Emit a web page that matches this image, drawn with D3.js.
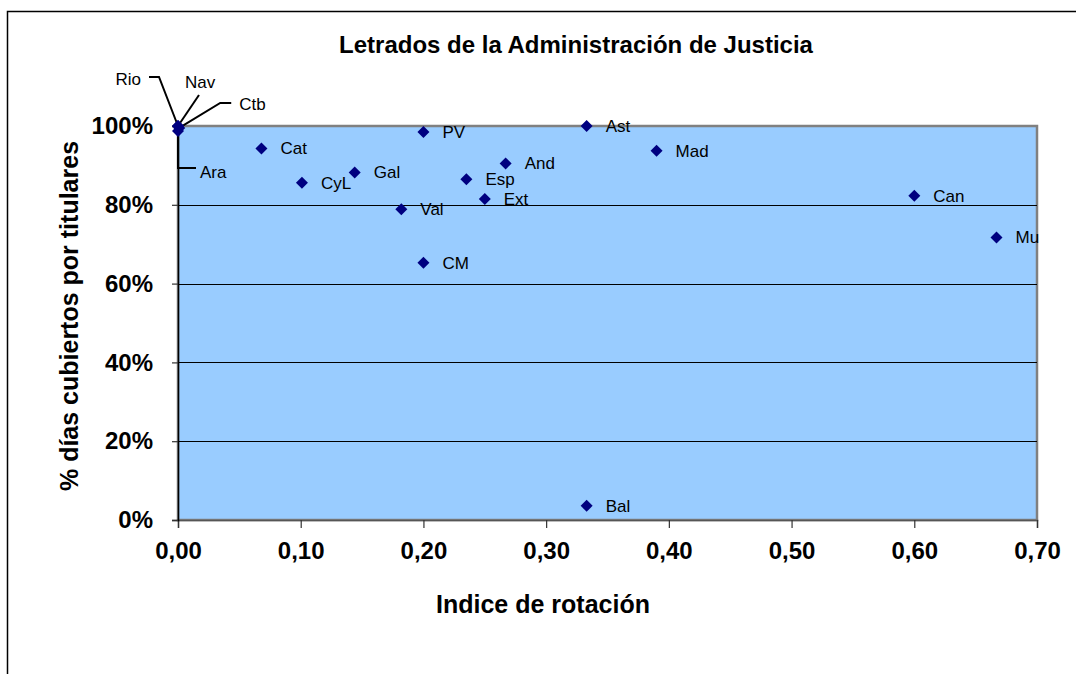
<!DOCTYPE html>
<html>
<head>
<meta charset="utf-8">
<script src="https://cdn.jsdelivr.net/npm/d3@7"></script>
<style>
  body { margin: 0; background: #fff; }
  text { font-family: "Liberation Sans", Arial, sans-serif; fill: #000; }
</style>
</head>
<body>
<script>
var w = 1076;
var h = 674;

// data
var regions  = ["Rio", "Nav", "Ctb", "Ara", "Cat", "CyL", "Gal", "PV", "Val", "CM", "Esp", "Ext", "And", "Ast", "Bal", "Mad", "Can", "Mu"];
var rotation = [0, 0, 0.001, 0, 0.068, 0.101, 0.144, 0.200, 0.182, 0.200, 0.235, 0.250, 0.267, 0.333, 0.333, 0.390, 0.600, 0.667];
var coverage = [1.0, 1.0, 0.995, 0.987, 0.943, 0.856, 0.882, 0.985, 0.789, 0.653, 0.865, 0.815, 0.905, 1.0, 0.036, 0.937, 0.823, 0.717];

var xTicks = [0, 0.1, 0.2, 0.3, 0.4, 0.5, 0.6, 0.7];
var yTicks = [0, 0.2, 0.4, 0.6, 0.8, 1.0];

// labels moved away from the crowded corner, with leader lines (offsets from the point)
var leaders = {
    Rio: { path: [[-19, -49], [-29, -49]], tx: -37, ty: -47, anchor: "end" },
    Nav: { path: [[21, -31]], tx: 7, ty: -44, anchor: "start" },
    Ctb: { path: [[41, -25], [52, -25]], tx: 60, ty: -24, anchor: "start" },
    Ara: { path: [[0, 37], [18, 37]], tx: 22, ty: 41, anchor: "start" }
};

var plotLeft = 178, plotRight = 1037, plotTop = 126, plotBottom = 520;

var dataset = regions.map(function(r, i) {
    return { name: r, x: rotation[i], y: coverage[i] };
});

var xScale = d3.scaleLinear().domain([0, 0.7]).range([plotLeft, plotRight]);
var yScale = d3.scaleLinear().domain([0, 1]).range([plotBottom, plotTop]);

var svg = d3.select("body")
    .append("svg")
    .attr("width", w)
    .attr("height", h);

// outer chart border (runs off the picture at right and bottom)
svg.append("rect")
    .attr("x", 7.5)
    .attr("y", 11.5)
    .attr("width", 1200)
    .attr("height", 800)
    .attr("fill", "none")
    .attr("stroke", "#000")
    .attr("stroke-width", 1.5);

// plot area
svg.append("rect")
    .attr("x", plotLeft)
    .attr("y", plotTop)
    .attr("width", plotRight - plotLeft)
    .attr("height", plotBottom - plotTop)
    .attr("fill", "#99ccff")
    .attr("stroke", "#808080")
    .attr("stroke-width", 2.5);

// gridlines
svg.selectAll(".grid")
    .data(yTicks.filter(function(d) { return d > 0 && d < 1; }))
    .enter()
    .append("line")
    .attr("x1", plotLeft)
    .attr("x2", plotRight)
    .attr("y1", function(d) { return Math.round(yScale(d)) + 0.5; })
    .attr("y2", function(d) { return Math.round(yScale(d)) + 0.5; })
    .attr("stroke", "#000")
    .attr("stroke-width", 1.2);

var xAxis = d3.axisBottom(xScale)
    .tickValues(xTicks)
    .tickSize(8)
    .tickPadding(14)
    .tickFormat(function(d) { return d3.format(".2f")(d).replace(".", ","); });

var gx = svg.append("g")
    .attr("transform", "translate(0," + plotBottom + ")")
    .call(xAxis);
gx.select(".domain").attr("stroke", "#555").attr("stroke-width", 1.5);
gx.selectAll(".tick line").attr("stroke", "#333").attr("stroke-width", 1.2);
gx.selectAll(".tick text")
    .style("font-family", "'Liberation Sans', Arial, sans-serif")
    .style("font-size", "24px")
    .style("font-weight", "bold")
    .attr("fill", "#000");

var yAxis = d3.axisLeft(yScale)
    .tickValues(yTicks)
    .tickSize(6)
    .tickPadding(19)
    .tickFormat(d3.format(".0%"));

var gy = svg.append("g")
    .attr("transform", "translate(" + plotLeft + ",0)")
    .call(yAxis);
gy.select(".domain").attr("stroke", "#000").attr("stroke-width", 1.5);
gy.selectAll(".tick line").attr("stroke", "#333").attr("stroke-width", 1.2);
gy.selectAll(".tick text")
    .style("font-family", "'Liberation Sans', Arial, sans-serif")
    .style("font-size", "24px")
    .style("font-weight", "bold")
    .attr("fill", "#000");

// title and axis titles
svg.append("text")
    .attr("x", 576)
    .attr("y", 53)
    .attr("text-anchor", "middle")
    .style("font-size", "24px")
    .style("font-weight", "bold")
    .text("Letrados de la Administración de Justicia");

svg.append("text")
    .attr("x", 543)
    .attr("y", 613)
    .attr("text-anchor", "middle")
    .style("font-size", "25px")
    .style("font-weight", "bold")
    .text("Indice de rotación");

svg.append("text")
    .attr("transform", "rotate(-90)")
    .attr("x", -316)
    .attr("y", 78)
    .attr("text-anchor", "middle")
    .style("font-size", "25px")
    .style("font-weight", "bold")
    .text("% días cubiertos por titulares");

// leader lines
svg.selectAll(".leader")
    .data(dataset.filter(function(d) { return leaders[d.name]; }))
    .enter()
    .append("path")
    .attr("fill", "none")
    .attr("stroke", "#000")
    .attr("stroke-width", 2)
    .attr("d", function(d) {
        var px = xScale(d.x), py = yScale(d.y);
        var pts = [[px, py]].concat(leaders[d.name].path.map(function(p) {
            return [px + p[0], py + p[1]];
        }));
        return d3.line()(pts);
    });

// points
svg.selectAll(".pt")
    .data(dataset)
    .enter()
    .append("path")
    .attr("d", "M0,-6L6,0L0,6L-6,0Z")
    .attr("transform", function(d) {
        return "translate(" + xScale(d.x) + "," + yScale(d.y) + ")";
    })
    .attr("fill", "#000080");

// point labels
svg.selectAll(".lbl")
    .data(dataset)
    .enter()
    .append("text")
    .attr("x", function(d) {
        var l = leaders[d.name];
        return xScale(d.x) + (l ? l.tx : 19);
    })
    .attr("y", function(d) {
        var l = leaders[d.name];
        return yScale(d.y) + (l ? l.ty : 0);
    })
    .attr("dy", "0.35em")
    .attr("text-anchor", function(d) {
        var l = leaders[d.name];
        return l ? l.anchor : "start";
    })
    .style("font-size", "17px")
    .attr("fill", "#111")
    .text(function(d) { return d.name; });
</script>
</body>
</html>
